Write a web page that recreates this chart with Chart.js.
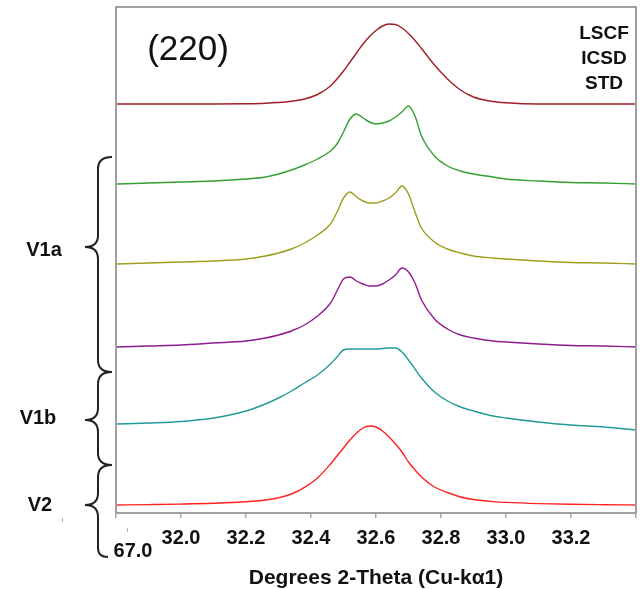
<!DOCTYPE html>
<html>
<head>
<meta charset="utf-8">
<script src="https://cdn.jsdelivr.net/npm/chart.js@4/dist/chart.umd.min.js"></script>
<style>
    html, body { margin: 0; padding: 0; background: #fff; }
    #xrd-chart { display: block; }
</style>
</head>
<body>
<canvas id="xrd-chart" width="644" height="589"></canvas>
<script>
// 2-theta positions shared by every trace (denser around the (220) peak)
const theta = [31.80, 31.90, 32.00, 32.10, 32.20,
    32.26, 32.30, 32.34, 32.38, 32.42, 32.46,
    32.48, 32.50, 32.52, 32.54, 32.56, 32.58, 32.60, 32.62, 32.64, 32.66, 32.68, 32.70, 32.72, 32.74,
    32.78, 32.82, 32.86, 32.90, 32.96, 33.00,
    33.10, 33.20, 33.30, 33.40];

// intensity above each trace's own baseline
const stdICSD = [0, 0, 0, 0, 0.3,
    0.8, 1.5, 2.8, 5, 9.5, 18,
    25, 33, 42, 51, 60, 67.5, 73.5, 78, 80, 79.5, 76, 70.5, 63.5, 55.5,
    39, 25, 14, 7, 2.5, 1.2,
    0, 0, 0, 0];
const v1aGreen = [0, 1, 2, 3, 5,
    7, 10, 14, 19, 25, 33,
    40, 52, 65, 70, 66, 62, 60, 61, 63, 67, 72, 78, 68, 48,
    28, 18, 13, 10, 7, 5,
    3, 1.5, 1, 0];
const v1aOlive = [0, 1, 2, 3, 5,
    8, 11, 15, 21, 29, 40,
    52, 66, 72, 67, 63, 61, 61, 63, 66, 71, 78, 70, 52, 36,
    22, 15, 11, 8, 6, 5,
    3, 1.5, 1, 0];
const v1aPurple = [0, 1, 2, 4, 6,
    9, 12, 16, 22, 31, 44,
    56, 68, 70, 66, 63, 61, 61, 63, 67, 72, 79, 75, 64, 47,
    28, 18, 12, 9, 6, 5,
    3, 1.5, 1, 0];
const v1bTeal = [6, 7, 8.5, 12, 19,
    26, 32, 39, 47, 55, 66,
    73, 80, 81, 81, 81, 81, 81, 81.5, 82, 82, 78, 70, 61, 52,
    38, 29, 23, 19, 14, 12,
    8, 5, 3, 0];
const v2Red = [1, 1.4, 1.9, 2.7, 4.2,
    6, 8.3, 12, 18.6, 28, 42,
    50, 58, 66, 73, 78, 80, 79, 75, 69, 62, 54, 44, 36, 29,
    19, 13.5, 9, 6.5, 4.4, 3.6,
    2.4, 1.7, 1.3, 1];

// vertical stacking offsets (same order as the traces)
const seriesNames = ['LSCF ICSD STD', 'V1a (1)', 'V1a (2)', 'V1a (3)', 'V1b', 'V2'];
const seriesValues = [stdICSD, v1aGreen, v1aOlive, v1aPurple, v1bTeal, v2Red];
const offsets = [409, 329, 249, 166, 83, 7];
const colors = ['#a01e28', '#33a033', '#9e9e1e', '#8e1c8e', '#22999a', '#ff2222'];

const xTicks = [32.0, 32.2, 32.4, 32.6, 32.8, 33.0, 33.2];

const FONT = "'Liberation Sans', Arial, sans-serif";

const datasets = seriesValues.map((vals, k) => ({
    label: seriesNames[k],
    data: vals.map((v, i) => ({ x: theta[i], y: offsets[k] + v })),
    borderColor: colors[k],
    borderWidth: 1.4,
    pointRadius: 0,
    fill: false,
    cubicInterpolationMode: 'monotone'
}));

function drawBrace(ctx, x, tipX, pointX, y1, ym, y2, r) {
    ctx.beginPath();
    ctx.moveTo(tipX, y1);
    ctx.quadraticCurveTo(x, y1, x, y1 + r);
    ctx.lineTo(x, ym - r);
    ctx.quadraticCurveTo(x, ym, pointX, ym);
    ctx.quadraticCurveTo(x, ym, x, ym + r);
    ctx.lineTo(x, y2 - r);
    ctx.quadraticCurveTo(x, y2, tipX, y2);
    ctx.stroke();
}

const annotations = {
    id: 'annotations',
    afterDatasetsDraw(chart) {
        const { ctx, chartArea: a } = chart;
        ctx.save();
        ctx.strokeStyle = '#a0a0a0';
        ctx.lineWidth = 2;
        ctx.strokeRect(a.left, a.top, a.right - a.left, a.bottom - a.top);
        ctx.restore();
    },
    afterDraw(chart) {
        const { ctx } = chart;
        ctx.save();
        ctx.fillStyle = '#111';
        ctx.textAlign = 'center';
        ctx.textBaseline = 'middle';

        ctx.font = `35px ${FONT}`;
        ctx.fillText('(220)', 188, 50);

        ctx.font = `bold 19px ${FONT}`;
        ctx.fillText('LSCF', 604, 34);
        ctx.fillText('ICSD', 604, 59);
        ctx.fillText('STD', 604, 84);

        ctx.font = `bold 20px ${FONT}`;
        ctx.fillText('V1a', 44, 250);
        ctx.fillText('V1b', 38, 418);
        ctx.fillText('V2', 40, 505);
        ctx.fillText('67.0', 133, 551);

        ctx.strokeStyle = '#222';
        ctx.lineWidth = 2;
        drawBrace(ctx, 98, 112, 85, 157, 247, 372, 12);
        drawBrace(ctx, 98, 112, 85, 372, 420, 465, 12);
        // V2 brace runs down into the stray "67.0" label
        ctx.beginPath();
        ctx.moveTo(112, 465);
        ctx.quadraticCurveTo(98, 465, 98, 477);
        ctx.lineTo(98, 493);
        ctx.quadraticCurveTo(98, 505, 85, 505);
        ctx.quadraticCurveTo(98, 505, 98, 517);
        ctx.lineTo(98, 548);
        ctx.quadraticCurveTo(98, 557, 108, 557);
        ctx.stroke();

        // small stray tick marks
        ctx.strokeStyle = '#b0b0b0';
        ctx.lineWidth = 1;
        ctx.beginPath();
        ctx.moveTo(62.5, 518); ctx.lineTo(62.5, 522);
        ctx.moveTo(127.5, 528); ctx.lineTo(127.5, 532);
        ctx.stroke();
        ctx.restore();
    }
};

new Chart(document.getElementById('xrd-chart'), {
    type: 'line',
    data: { datasets: datasets },
    options: {
        responsive: false,
        animation: false,
        devicePixelRatio: 1,
        layout: { padding: { left: 116, right: 5, top: 7, bottom: 0 } },
        plugins: {
            legend: { display: false },
            tooltip: { enabled: false }
        },
        scales: {
            x: {
                type: 'linear',
                min: 31.8,
                max: 33.4,
                afterFit(scale) { scale.height = 76; },
                afterBuildTicks(scale) {
                    scale.ticks = [31.8].concat(xTicks, [33.4]).map(v => ({ value: v }));
                },
                grid: {
                    display: true,
                    drawOnChartArea: false,
                    drawTicks: true,
                    tickLength: 5,
                    tickColor: '#a8a8a8',
                    lineWidth: 1.5
                },
                border: { display: false },
                ticks: {
                    padding: 8,
                    color: '#111',
                    font: { family: FONT, size: 20, weight: 'bold' },
                    maxRotation: 0,
                    autoSkip: false,
                    callback: v => xTicks.some(t => Math.abs(t - v) < 1e-6) ? v.toFixed(1) : ''
                },
                title: {
                    display: true,
                    text: 'Degrees 2-Theta (Cu-kα1)',
                    color: '#111',
                    font: { family: FONT, size: 21, weight: 'bold' },
                    padding: { top: 0, bottom: -2 }
                }
            },
            y: {
                type: 'linear',
                display: false,
                min: 0,
                max: 506
            }
        }
    },
    plugins: [annotations]
});
</script>
</body>
</html>
